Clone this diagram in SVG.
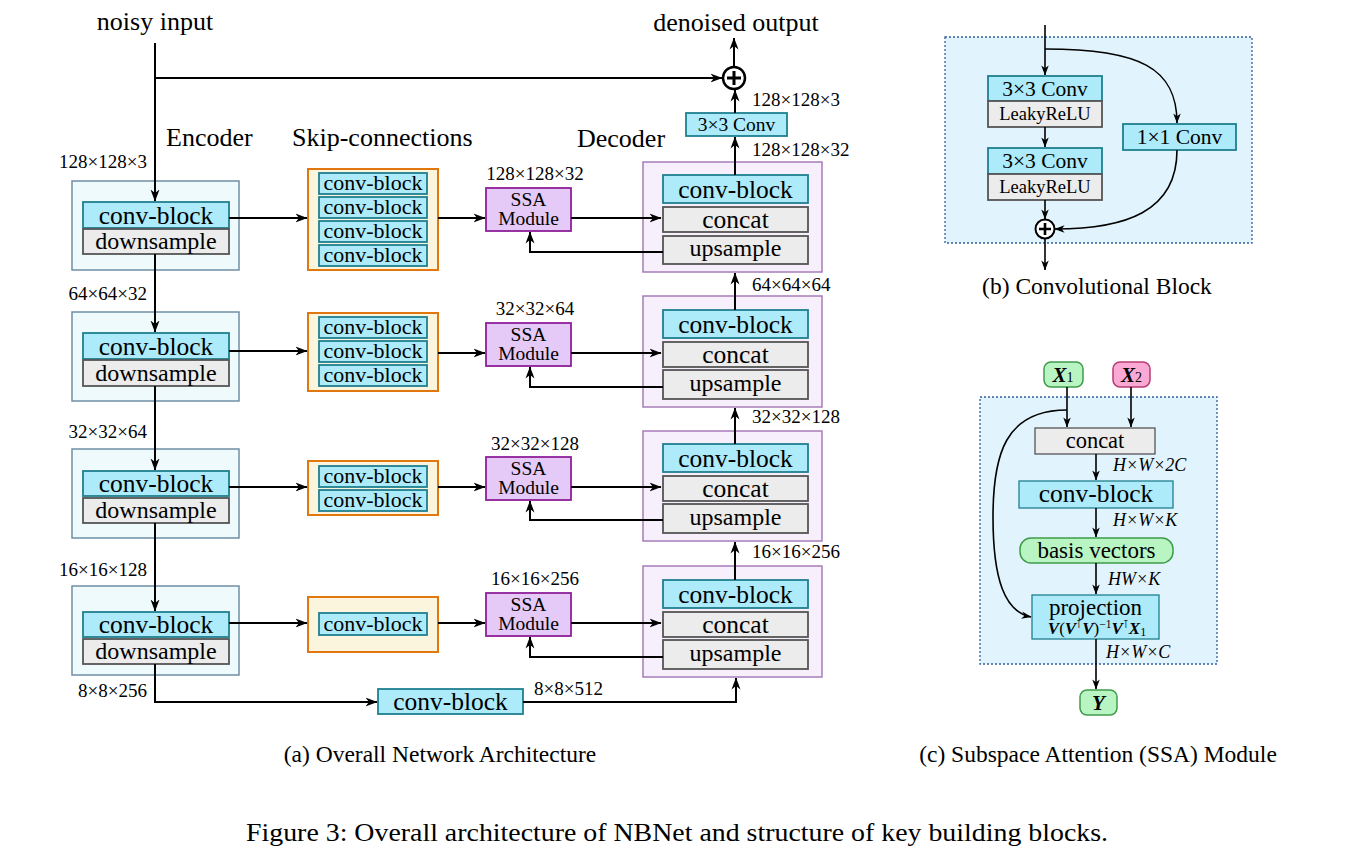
<svg xmlns="http://www.w3.org/2000/svg" width="1355" height="859" viewBox="0 0 1355 859">
<defs>
<marker id="ah" viewBox="0 0 12 10" markerWidth="12" markerHeight="10" refX="11.5" refY="5" orient="auto" markerUnits="userSpaceOnUse">
<path d="M0,0.5 L12,5 L0,9.5 L3.5,5 z" fill="#000"/>
</marker>
<marker id="ahs" viewBox="0 0 12 10" markerWidth="10" markerHeight="8.5" refX="11.5" refY="5" orient="auto" markerUnits="userSpaceOnUse">
<path d="M0,0.5 L12,5 L0,9.5 L3.5,5 z" fill="#000"/>
</marker>
</defs>
<style>
text{font-family:"Liberation Serif","Times New Roman",serif;fill:#000}
.enc{fill:#effafd;stroke:#6f8fa3;stroke-width:1.5}
.cb{fill:#aeebfa;stroke:#1f7f8f;stroke-width:1.8}
.gr{fill:#ececec;stroke:#555;stroke-width:1.8}
.sk{fill:#fcf5dd;stroke:#e0780f;stroke-width:2}
.ssa{fill:#e5c9f7;stroke:#8e1f9a;stroke-width:1.8}
.dec{fill:#f8effd;stroke:#a77cb8;stroke-width:1.5}
.pan{fill:#e1f4fd;stroke:#2f5f9f;stroke-width:1.3;stroke-dasharray:2 2}
.gn{fill:#b9f5c2;stroke:#3f9b4b;stroke-width:1.5}
.pk{fill:#f9a9d3;stroke:#b73b76;stroke-width:1.5}
.ln{fill:none;stroke:#000;stroke-width:2}
.lns{fill:none;stroke:#000;stroke-width:1.6}
.ar{marker-end:url(#ah)}
.ars{marker-end:url(#ahs)}
.t26{font-size:26px}
.big{font-size:25.5px}
.ds{font-size:24px}
.sm{font-size:22px}
.lb{font-size:19px}
.md{font-size:19.5px}
.mid{text-anchor:middle}
.it{font-style:italic;font-size:18px}
.bi{font-weight:bold;font-style:italic}
.sup{font-size:11px;font-family:"DejaVu Serif",serif}
.cap{font-size:23.5px}
</style>

<!-- titles -->
<text class="t26 mid" x="155" y="30">noisy input</text>
<text class="t26 mid" x="736" y="31">denoised output</text>
<text class="t26" x="166" y="146">Encoder</text>
<text class="t26" x="292" y="146">Skip-connections</text>
<text class="t26" x="577" y="147">Decoder</text>

<!-- encoder -->
<g id="enc1"><rect class="enc" x="72" y="181" width="167" height="89"/><rect class="cb" x="83" y="202" width="146" height="26"/><rect class="gr" x="83" y="229" width="146" height="25"/><text class="big mid" x="156" y="224">conv-block</text><text class="ds mid" x="156" y="249">downsample</text></g>
<g id="enc2"><rect class="enc" x="72" y="312" width="167" height="89"/><rect class="cb" x="83" y="333" width="146" height="26"/><rect class="gr" x="83" y="360" width="146" height="26"/><text class="big mid" x="156" y="355">conv-block</text><text class="ds mid" x="156" y="381">downsample</text></g>
<g id="enc3"><rect class="enc" x="72" y="449" width="167" height="89"/><rect class="cb" x="83" y="471" width="146" height="25"/><rect class="gr" x="83" y="498" width="146" height="25"/><text class="big mid" x="156" y="492">conv-block</text><text class="ds mid" x="156" y="518">downsample</text></g>
<g id="enc4"><rect class="enc" x="72" y="586" width="167" height="89"/><rect class="cb" x="83" y="612" width="146" height="25"/><rect class="gr" x="83" y="639" width="146" height="25"/><text class="big mid" x="156" y="633">conv-block</text><text class="ds mid" x="156" y="659">downsample</text></g>

<!-- skip connections -->
<g id="skip1"><rect class="sk" x="308" y="169" width="130" height="101"/>
<rect class="cb" x="319" y="173" width="108" height="21"/><rect class="cb" x="319" y="197" width="108" height="21"/><rect class="cb" x="319" y="221" width="108" height="21"/><rect class="cb" x="319" y="245" width="108" height="21"/>
<text class="sm mid" x="373" y="190">conv-block</text><text class="sm mid" x="373" y="214">conv-block</text><text class="sm mid" x="373" y="238">conv-block</text><text class="sm mid" x="373" y="262">conv-block</text></g>
<g id="skip2"><rect class="sk" x="308" y="313" width="130" height="78"/>
<rect class="cb" x="319" y="317" width="108" height="21"/><rect class="cb" x="319" y="341" width="108" height="21"/><rect class="cb" x="319" y="365" width="108" height="21"/>
<text class="sm mid" x="373" y="334">conv-block</text><text class="sm mid" x="373" y="358">conv-block</text><text class="sm mid" x="373" y="382">conv-block</text></g>
<g id="skip3"><rect class="sk" x="308" y="461" width="130" height="54"/>
<rect class="cb" x="319" y="466" width="108" height="21"/><rect class="cb" x="319" y="490" width="108" height="21"/>
<text class="sm mid" x="373" y="483">conv-block</text><text class="sm mid" x="373" y="507">conv-block</text></g>
<g id="skip4"><rect class="sk" x="308" y="597" width="130" height="55"/>
<rect class="cb" x="319" y="613" width="108" height="22"/>
<text class="sm mid" x="373" y="631">conv-block</text></g>

<!-- SSA -->
<g id="ssa1"><rect class="ssa" x="486" y="188" width="85" height="43"/><text class="md mid" x="528.5" y="206">SSA</text><text class="md mid" x="528.5" y="225">Module</text></g>
<g id="ssa2"><rect class="ssa" x="486" y="323" width="85" height="43"/><text class="md mid" x="528.5" y="341">SSA</text><text class="md mid" x="528.5" y="360">Module</text></g>
<g id="ssa3"><rect class="ssa" x="486" y="457" width="85" height="43"/><text class="md mid" x="528.5" y="475">SSA</text><text class="md mid" x="528.5" y="494">Module</text></g>
<g id="ssa4"><rect class="ssa" x="486" y="593" width="85" height="43"/><text class="md mid" x="528.5" y="611">SSA</text><text class="md mid" x="528.5" y="630">Module</text></g>

<!-- decoder -->
<g id="dec1"><rect class="dec" x="643" y="162" width="179" height="110"/><rect class="cb" x="663" y="175" width="145" height="28"/><rect class="gr" x="663" y="207" width="145" height="25"/><rect class="gr" x="663" y="236" width="145" height="28"/>
<text class="big mid" x="735.5" y="198">conv-block</text><text class="big mid" x="735.5" y="228">concat</text><text class="ds mid" x="735.5" y="256">upsample</text></g>
<g id="dec2"><rect class="dec" x="643" y="296" width="179" height="111"/><rect class="cb" x="663" y="310" width="145" height="28"/><rect class="gr" x="663" y="342" width="145" height="25"/><rect class="gr" x="663" y="370" width="145" height="29"/>
<text class="big mid" x="735.5" y="333">conv-block</text><text class="big mid" x="735.5" y="363">concat</text><text class="ds mid" x="735.5" y="391">upsample</text></g>
<g id="dec3"><rect class="dec" x="643" y="431" width="179" height="110"/><rect class="cb" x="663" y="444" width="145" height="28"/><rect class="gr" x="663" y="476" width="145" height="25"/><rect class="gr" x="663" y="504" width="145" height="29"/>
<text class="big mid" x="735.5" y="467">conv-block</text><text class="big mid" x="735.5" y="497">concat</text><text class="ds mid" x="735.5" y="525">upsample</text></g>
<g id="dec4"><rect class="dec" x="643" y="566" width="179" height="111"/><rect class="cb" x="663" y="580" width="145" height="28"/><rect class="gr" x="663" y="612" width="145" height="25"/><rect class="gr" x="663" y="640" width="145" height="29"/>
<text class="big mid" x="735.5" y="603">conv-block</text><text class="big mid" x="735.5" y="633">concat</text><text class="ds mid" x="735.5" y="661">upsample</text></g>

<g id="conv33"><rect class="cb" x="686" y="113" width="101" height="23"/><text class="md mid" x="736.5" y="131">3×3 Conv</text></g>
<g id="bottleneck"><rect class="cb" x="378" y="689" width="145" height="25"/><text class="big mid" x="450.5" y="710">conv-block</text></g>
<g id="plus"><circle cx="734" cy="78" r="11" fill="#fff" stroke="#000" stroke-width="2.5"/><path d="M734,71 V85 M727,78 H741" stroke="#000" stroke-width="3"/></g>

<!-- dimension labels -->
<g id="labels">
<text class="lb" x="147" y="168" text-anchor="end">128×128×3</text>
<text class="lb" x="147" y="300" text-anchor="end">64×64×32</text>
<text class="lb" x="147" y="438" text-anchor="end">32×32×64</text>
<text class="lb" x="147" y="576" text-anchor="end">16×16×128</text>
<text class="lb" x="147" y="697" text-anchor="end">8×8×256</text>
<text class="lb" x="534" y="695">8×8×512</text>
<text class="lb mid" x="535" y="180">128×128×32</text>
<text class="lb mid" x="535" y="315">32×32×64</text>
<text class="lb mid" x="535" y="450">32×32×128</text>
<text class="lb mid" x="535" y="585">16×16×256</text>
<text class="lb" x="752" y="106">128×128×3</text>
<text class="lb" x="752" y="156">128×128×32</text>
<text class="lb" x="752" y="291">64×64×64</text>
<text class="lb" x="752" y="423">32×32×128</text>
<text class="lb" x="752" y="558">16×16×256</text>
</g>

<!-- connectors main -->
<g id="connectors-a">
<path class="ln ar" d="M155,43 V201"/>
<path class="ln ar" d="M155,78 H722"/>
<path class="ln ar" d="M734,66 V38"/>
<path class="ln ar" d="M735,113 V90"/>
<path class="ln ar" d="M735,175 V137"/>
<path class="ln ar" d="M735,310 V273"/>
<path class="ln ar" d="M735,444 V408"/>
<path class="ln ar" d="M735,580 V542"/>
<path class="ln ar" d="M523,702 H736 V678"/>
<path class="ln ar" d="M155,664 V702 H377"/>
<path class="ln ar" d="M155,254 V332"/>
<path class="ln ar" d="M155,386 V470"/>
<path class="ln ar" d="M155,523 V611"/>
<path class="ln ar" d="M229,218 H307"/>
<path class="ln ar" d="M229,351 H307"/>
<path class="ln ar" d="M229,487 H307"/>
<path class="ln ar" d="M229,623 H307"/>
<path class="ln ar" d="M438,218 H485"/>
<path class="ln ar" d="M438,353 H485"/>
<path class="ln ar" d="M438,487 H485"/>
<path class="ln ar" d="M438,623 H485"/>
<path class="ln ar" d="M571,218 H661"/>
<path class="ln ar" d="M571,353 H661"/>
<path class="ln ar" d="M571,487 H661"/>
<path class="ln ar" d="M571,623 H661"/>
<path class="ln ar" d="M663,252 H530 V232"/>
<path class="ln ar" d="M663,387 H530 V367"/>
<path class="ln ar" d="M663,520 H530 V501"/>
<path class="ln ar" d="M663,657 H530 V637"/>
</g>

<!-- (b) Convolutional block -->
<g id="panel-b"><rect class="pan" x="945" y="37" width="307" height="206"/></g>
<g id="b-conv1"><rect class="cb" x="988" y="76" width="114" height="25"/><rect class="gr" x="988" y="101" width="114" height="26"/><text class="mid" style="font-size:21.5px" x="1045" y="96">3×3 Conv</text><text class="mid" style="font-size:18.5px" x="1045" y="120">LeakyReLU</text></g>
<g id="b-conv2"><rect class="cb" x="988" y="148" width="114" height="26"/><rect class="gr" x="988" y="174" width="114" height="26"/><text class="mid" style="font-size:21.5px" x="1045" y="168">3×3 Conv</text><text class="mid" style="font-size:18.5px" x="1045" y="193">LeakyReLU</text></g>
<g id="b-conv11"><rect class="cb" x="1123" y="124" width="113" height="26"/><text class="mid" style="font-size:21.5px" x="1179.5" y="144">1×1 Conv</text></g>
<g id="b-plus"><circle cx="1045" cy="229" r="9.5" fill="#fff" stroke="#000" stroke-width="2"/><path d="M1045,223 V235 M1039,229 H1051" stroke="#000" stroke-width="2.6"/></g>
<g id="connectors-b">
<path class="lns ars" d="M1045,25 V75"/>
<path class="lns ars" d="M1045,49 C1140,49 1177,68 1177,123"/>
<path class="lns ars" d="M1045,127 V147"/>
<path class="lns ars" d="M1045,200 V219"/>
<path class="lns ars" d="M1177,150 C1177,212 1125,229 1055,229"/>
<path class="lns ars" d="M1045,238.5 V270"/>
</g>
<text class="cap mid" x="1097" y="294">(b) Convolutional Block</text>

<!-- (c) SSA module -->
<g id="panel-c"><rect class="pan" x="980" y="397" width="237" height="267"/></g>
<g id="c-x1"><rect class="gn" x="1044" y="362" width="39" height="25" rx="7"/><text x="1063" y="382" class="mid" style="font-size:21px"><tspan class="bi">X</tspan><tspan style="font-size:14px">1</tspan></text></g>
<g id="c-x2"><rect class="pk" x="1113" y="362" width="37" height="25" rx="7"/><text x="1131.5" y="382" class="mid" style="font-size:21px"><tspan class="bi">X</tspan><tspan style="font-size:14px">2</tspan></text></g>
<g id="c-concat"><rect class="gr" x="1035" y="428" width="120" height="26" style="stroke-width:1.3"/><text class="mid" style="font-size:22.5px" x="1095" y="448">concat</text></g>
<g id="c-conv"><rect class="cb" x="1019" y="481" width="154" height="27" style="stroke-width:1.3"/><text class="mid" style="font-size:25.5px" x="1096" y="502">conv-block</text></g>
<g id="c-basis"><rect class="gn" x="1020" y="538" width="153" height="25" rx="11"/><text class="mid" style="font-size:23px" x="1096.5" y="558">basis vectors</text></g>
<g id="c-proj"><rect class="cb" x="1032" y="595" width="127" height="44" style="stroke-width:1.3"/><text class="mid" style="font-size:23px" x="1095.5" y="615">projection</text>
<text class="mid" style="font-size:17px" x="1097" y="634"><tspan class="bi">V</tspan>(<tspan class="bi">V</tspan><tspan class="sup" dy="-6">⊺</tspan><tspan class="bi" dy="6">V</tspan>)<tspan style="font-size:11.5px" dy="-6">−1</tspan><tspan class="bi" dy="6">V</tspan><tspan class="sup" dy="-6">⊺</tspan><tspan class="bi" dy="6">X</tspan><tspan style="font-size:12px" dy="2">1</tspan></text></g>
<g id="c-y"><rect class="gn" x="1080" y="690" width="37" height="25" rx="7"/><text class="mid bi" style="font-size:21px" x="1098.5" y="710">Y</text></g>
<g id="c-labels">
<text class="it" x="1113" y="471">H×W×2C</text>
<text class="it" x="1113" y="526">H×W×K</text>
<text class="it" x="1108" y="585">HW×K</text>
<text class="it" x="1106" y="658">H×W×C</text>
</g>
<g id="connectors-c">
<path class="lns ars" d="M1067,387 V427"/>
<path class="lns ars" d="M1131,387 V427"/>
<path class="lns ars" d="M1067,410 C1005,410 993,455 993,517 C993,580 1005,612 1031,617"/>
<path class="lns ars" d="M1096,454 V480"/>
<path class="lns ars" d="M1096,508 V537"/>
<path class="lns ars" d="M1096,563 V594"/>
<path class="lns ars" d="M1096,639 V689"/>
</g>

<!-- captions -->
<text class="cap mid" x="440" y="762">(a) Overall Network Architecture</text>
<text class="cap mid" x="1098" y="762">(c) Subspace Attention (SSA) Module</text>
<text class="mid" style="font-size:26px" x="677" y="841" textLength="862" lengthAdjust="spacingAndGlyphs">Figure 3: Overall architecture of NBNet and structure of key building blocks.</text>
</svg>
